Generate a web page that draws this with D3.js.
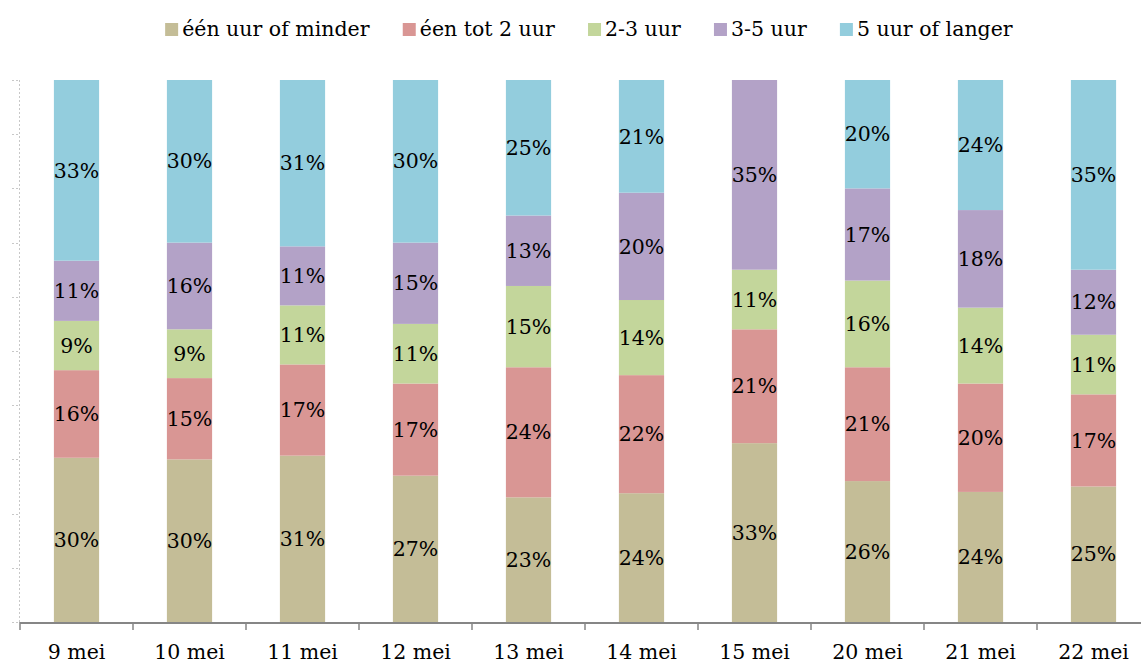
<!DOCTYPE html>
<html>
<head>
<meta charset="utf-8">
<script src="https://cdn.jsdelivr.net/npm/d3@7"></script>
<style>
  body { margin: 0; background: #fff; }
  svg text { font-family: "DejaVu Serif", Georgia, serif; fill: #000; }
</style>
</head>
<body>
<div id="chart"></div>
<script>
var dates = ["9 mei", "10 mei", "11 mei", "12 mei", "13 mei", "14 mei", "15 mei", "20 mei", "21 mei", "22 mei"];
var seriesNames = ["één uur of minder", "éen tot 2 uur", "2-3 uur", "3-5 uur", "5 uur of langer"];
var seriesColors = ["#C4BD97", "#D99694", "#C3D69B", "#B3A2C7", "#93CDDD"];
var uurOfMinder = [30, 30, 31, 27, 23, 24, 33, 26, 24, 25];
var totTwee     = [16, 15, 17, 17, 24, 22, 21, 21, 20, 17];
var tweeDrie    = [9, 9, 11, 11, 15, 14, 11, 16, 14, 11];
var drieVijf    = [11, 16, 11, 15, 13, 20, 35, 17, 18, 12];
var vijfLanger  = [33, 30, 31, 30, 25, 21, 0, 20, 24, 35];
var yTicks = d3.range(0, 1.01, 0.1);

var width = 1141, height = 664;
var margin = { top: 80, left: 20, bottom: 42 };
var series = [uurOfMinder, totTwee, tweeDrie, drieVijf, vijfLanger];

var rows = dates.map(function(d, i) {
  var row = { date: d };
  seriesNames.forEach(function(s, j) { row[s] = series[j][i]; });
  return row;
});

var stacked = d3.stack()
  .keys(seriesNames)
  .offset(d3.stackOffsetExpand)(rows);

var svg = d3.select("#chart").append("svg")
  .attr("width", width)
  .attr("height", height);

var x = d3.scaleBand()
  .domain(dates)
  .range([margin.left, margin.left + 113 * dates.length])
  .paddingInner(0.6)
  .paddingOuter(0.3);

var y = d3.scaleLinear()
  .domain([0, 1])
  .range([height - margin.bottom, margin.top]);

// dotted y axis
var yAxis = svg.append("g");
yAxis.append("line")
  .attr("x1", margin.left - 0.5).attr("x2", margin.left - 0.5)
  .attr("y1", y(0)).attr("y2", y(1))
  .attr("stroke", "#c8c8c8")
  .attr("stroke-dasharray", "2,2");
yAxis.selectAll("line.tick")
  .data(yTicks)
  .enter().append("line")
  .attr("class", "tick")
  .attr("x1", margin.left - 8).attr("x2", margin.left)
  .attr("y1", function(d) { return Math.round(y(d)) + 0.5; })
  .attr("y2", function(d) { return Math.round(y(d)) + 0.5; })
  .attr("stroke", "#c8c8c8")
  .attr("stroke-dasharray", "2,2");

// bars
var groups = svg.selectAll("g.layer")
  .data(stacked)
  .enter().append("g")
  .attr("class", "layer")
  .attr("fill", function(d, i) { return seriesColors[i]; });

groups.selectAll("rect")
  .data(function(d) { return d; })
  .enter().append("rect")
  .attr("x", function(d) { return x(d.data.date); })
  .attr("width", x.bandwidth())
  .attr("y", function(d) { return y(d[1]); })
  .attr("height", function(d) { return y(d[0]) - y(d[1]); });

// value labels
stacked.forEach(function(layer) {
  svg.append("g").selectAll("text")
    .data(layer.filter(function(d) { return d.data[layer.key] > 0; }))
    .enter().append("text")
    .attr("x", function(d) { return x(d.data.date) + x.bandwidth() / 2; })
    .attr("y", function(d) { return (y(d[0]) + y(d[1])) / 2; })
    .attr("dy", "0.35em")
    .attr("text-anchor", "middle")
    .attr("font-size", "20.5px")
    .text(function(d) { return d.data[layer.key] + "%"; });
});

// x axis
var xAxis = svg.append("g");
xAxis.append("line")
  .attr("x1", margin.left).attr("x2", width)
  .attr("y1", y(0) + 1).attr("y2", y(0) + 1)
  .attr("stroke", "#868686")
  .attr("stroke-width", 2);
xAxis.selectAll("line.tick")
  .data(dates)
  .enter().append("line")
  .attr("class", "tick")
  .attr("x1", function(d) { return x(d) - x.step() * x.paddingOuter(); })
  .attr("x2", function(d) { return x(d) - x.step() * x.paddingOuter(); })
  .attr("y1", y(0)).attr("y2", y(0) + 8)
  .attr("stroke", "#868686")
  .attr("stroke-width", 1.5);
xAxis.selectAll("text")
  .data(dates)
  .enter().append("text")
  .attr("x", function(d) { return x(d) + x.bandwidth() / 2; })
  .attr("y", 659)
  .attr("text-anchor", "middle")
  .attr("font-size", "20.5px")
  .text(function(d) { return d; });

// legend
var legend = svg.append("g");
var items = legend.selectAll("g")
  .data(seriesNames)
  .enter().append("g");
items.append("rect")
  .attr("width", 13).attr("height", 13)
  .attr("y", 23)
  .attr("fill", function(d, i) { return seriesColors[i]; });
items.append("text")
  .attr("x", 17)
  .attr("y", 36)
  .attr("font-size", "20.5px")
  .text(function(d) { return d; });
var offset = 0;
items.each(function() {
  d3.select(this).attr("transform", "translate(" + offset + ",0)");
  offset += this.getBBox().width + 33;
});
offset -= 33;
legend.attr("transform", "translate(" + (589 - offset / 2) + ",0)");
</script>
</body>
</html>
